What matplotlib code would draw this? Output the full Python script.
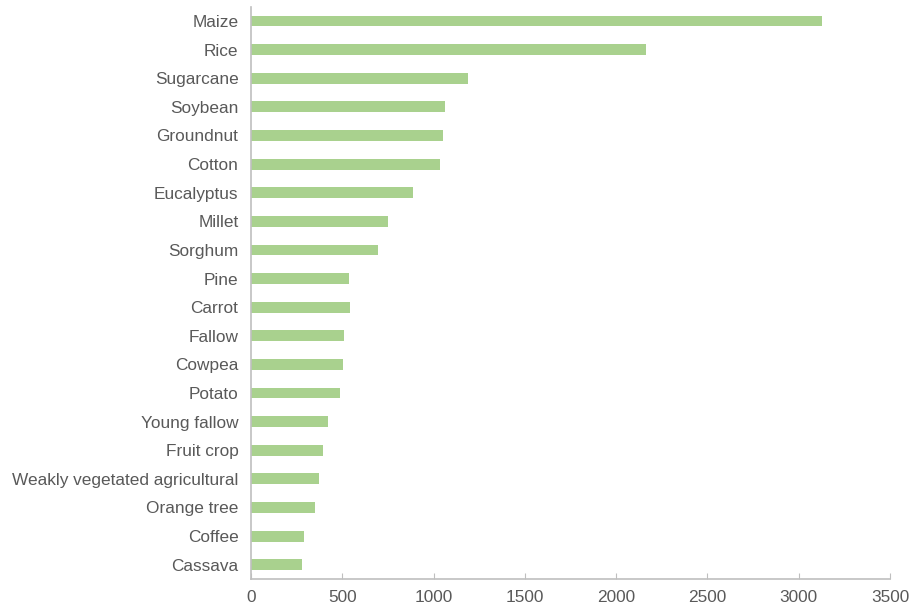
import matplotlib
matplotlib.use("Agg")
import matplotlib.pyplot as plt
import numpy as np

# crop names, top to bottom as shown
crops = ["Maize", "Rice", "Sugarcane", "Soybean", "Groundnut", "Cotton",
         "Eucalyptus", "Millet", "Sorghum", "Pine", "Carrot", "Fallow",
         "Cowpea", "Potato", "Young fallow", "Fruit crop",
         "Weakly vegetated agricultural", "Orange tree", "Coffee", "Cassava"]
values = [3130, 2165, 1190, 1060, 1050, 1033, 888, 748, 695, 538, 540, 512,
          503, 487, 424, 397, 372, 353, 293, 282]

plt.rcParams['font.family'] = ['Liberation Sans', 'DejaVu Sans']

fig = plt.figure(figsize=(9.11, 6.10), dpi=100)
ax = fig.add_axes([0.2755, 0.0508, 0.7015, 0.9382])

y = np.arange(len(crops))
ax.barh(y, values, height=0.38, color='#a9d18e')

ax.set_ylim(len(crops) - 0.5, -0.5)
ax.set_xlim(0, 3500)
ax.set_yticks(y)
ax.set_yticklabels(crops)
ax.set_xticks(np.arange(0, 3501, 500))

for s in ['top', 'right']:
    ax.spines[s].set_visible(False)
for s in ['left', 'bottom']:
    ax.spines[s].set_color('#bfbfbf')
    ax.spines[s].set_linewidth(1.2)

ax.tick_params(axis='y', length=0, pad=9, labelsize=12.4, labelcolor='#595959')
ax.tick_params(axis='x', direction='in', length=4, color='#bfbfbf',
               pad=8, labelsize=12.4, labelcolor='#595959')

fig.savefig("out.png", dpi=100)
